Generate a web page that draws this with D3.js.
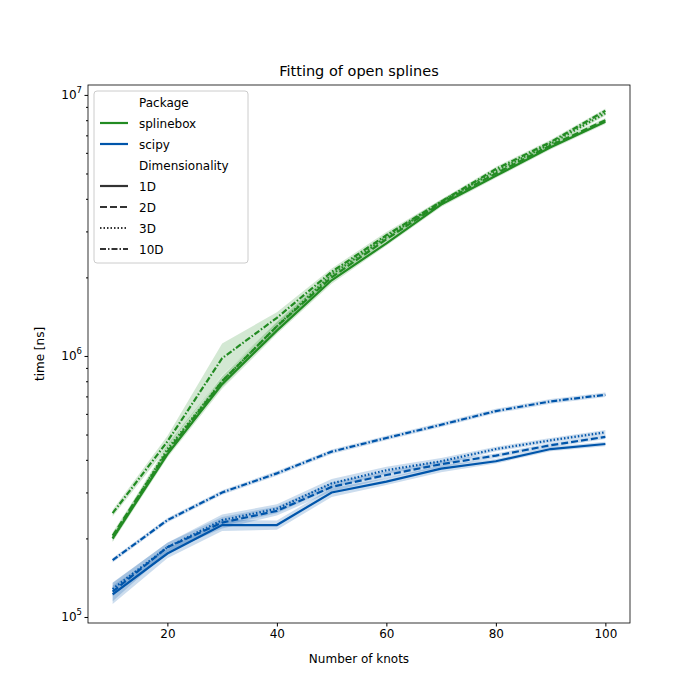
<!DOCTYPE html>
<html><head><meta charset="utf-8">
<script src="https://cdn.jsdelivr.net/npm/d3@7"></script>
<style>body{margin:0;background:#fff}text{font-family:"DejaVu Sans",sans-serif}</style>
</head><body><svg id="c" width="700" height="700"></svg>
<script>
const knots=[10,20,30,40,50,60,70,80,90,100];
const dims=["1D","2D","3D","10D"];
const packages=["splinebox","scipy"];
const colors={splinebox:"#228b22",scipy:"#0055aa"};
const dashes={"1D":null,"2D":"7,3","3D":"1.5,2","10D":"6,2,1.5,2"};
const splinebox={
 "1D":[2.0e5,4.2e5,7.8e5,1.25e6,1.95e6,2.7e6,3.8e6,4.9e6,6.3e6,7.9e6],
 "2D":[2.05e5,4.3e5,8.0e5,1.3e6,2.0e6,2.8e6,3.85e6,5.0e6,6.4e6,8.0e6],
 "3D":[2.0e5,4.4e5,8.0e5,1.3e6,2.05e6,2.85e6,3.9e6,5.1e6,6.5e6,8.5e6],
 "10D":[2.5e5,4.7e5,9.8e5,1.4e6,2.1e6,2.9e6,3.9e6,5.2e6,6.6e6,8.7e6]};
const scipy={
 "1D":[1.22e5,1.75e5,2.25e5,2.25e5,3.0e5,3.3e5,3.7e5,3.95e5,4.4e5,4.6e5],
 "2D":[1.25e5,1.85e5,2.3e5,2.55e5,3.15e5,3.5e5,3.85e5,4.15e5,4.55e5,4.9e5],
 "3D":[1.28e5,1.85e5,2.35e5,2.6e5,3.25e5,3.65e5,3.95e5,4.4e5,4.75e5,5.1e5],
 "10D":[1.65e5,2.35e5,3.0e5,3.55e5,4.3e5,4.85e5,5.45e5,6.15e5,6.7e5,7.1e5]};
// relative half-widths of confidence bands
const splineboxSpread={"1D":[0.03,0.03,0.04,0.03,0.03,0.02,0.02,0.02,0.02,0.02],"2D":[0.03,0.03,0.04,0.03,0.03,0.02,0.02,0.02,0.02,0.02],"3D":[0.03,0.04,0.05,0.04,0.03,0.03,0.02,0.02,0.02,0.02],"10D":[0.03,0.05,0.14,0.05,0.03,0.03,0.02,0.02,0.02,0.02]};
const scipySpread={"1D":[0.08,0.04,0.05,0.04,0.04,0.03,0.03,0.02,0.02,0.02],"2D":[0.08,0.04,0.05,0.04,0.04,0.03,0.03,0.02,0.02,0.02],"3D":[0.06,0.04,0.05,0.04,0.04,0.03,0.03,0.02,0.02,0.02],"10D":[0.02,0.02,0.02,0.02,0.02,0.02,0.02,0.02,0.02,0.02]};
const data={splinebox,scipy}, spread={splinebox:splineboxSpread,scipy:scipySpread};

const svg=d3.select("#c");
const L=88,R=630,T=85,B=623;
const x=d3.scaleLinear().domain([5.5,104.5]).range([L,R]);
const y=d3.scaleLog().domain([Math.pow(10,4.977),Math.pow(10,7.038)]).range([B,T]);
const g=svg.append("g");
packages.forEach(p=>dims.forEach(d=>{
  const v=data[p][d], s=spread[p][d];
  const area=d3.area().x((_,i)=>x(knots[i])).y0((_,i)=>y(v[i]*(1-s[i]))).y1((_,i)=>y(v[i]*(1+s[i])));
  g.append("path").attr("d",area(v)).attr("fill",colors[p]).attr("opacity",0.2);
}));
packages.forEach(p=>dims.forEach(d=>{
  const v=data[p][d];
  const line=d3.line().x((_,i)=>x(knots[i])).y(t=>y(t));
  g.append("path").attr("d",line(v)).attr("fill","none").attr("stroke",colors[p]).attr("stroke-width",2.2).attr("stroke-dasharray",dashes[d]);
}));
const xa=svg.append("g").attr("transform",`translate(0,${B})`).call(d3.axisBottom(x).tickValues([20,40,60,80,100]).tickSizeOuter(0).tickSize(3.5));
const ya=svg.append("g").attr("transform",`translate(${L},0)`).call(d3.axisLeft(y).tickValues([1e5,1e6,1e7]).tickFormat(()=> "").tickSize(3.5));
[1e5,1e6,1e7].forEach((t,i)=>{
  const tx=svg.append("text").attr("x",L-6).attr("y",y(t)+4).attr("text-anchor","end").attr("font-size",12);
  tx.append("tspan").text("10");
  tx.append("tspan").attr("dy",-6).attr("font-size",8.5).text(5+i);
});
const minor=[];for(let e=4;e<7;e++)for(let k=2;k<10;k++){const val=k*Math.pow(10,e);if(val>y.domain()[0]&&val<y.domain()[1])minor.push(val);}
svg.append("g").attr("transform",`translate(${L},0)`).call(d3.axisLeft(y).tickValues(minor).tickFormat("").tickSize(2));
svg.selectAll(".domain").remove();
svg.append("rect").attr("x",L).attr("y",T).attr("width",R-L).attr("height",B-T).attr("fill","none").attr("stroke","#000").attr("stroke-width",0.8);
svg.selectAll(".tick text").attr("font-size",12).attr("font-family","DejaVu Sans");
svg.append("text").attr("x",(L+R)/2).attr("y",76).attr("text-anchor","middle").attr("font-size",14.5).text("Fitting of open splines");
svg.append("text").attr("x",(L+R)/2).attr("y",663).attr("text-anchor","middle").attr("font-size",12).text("Number of knots");
svg.append("text").attr("transform",`translate(44,${(T+B)/2}) rotate(-90)`).attr("text-anchor","middle").attr("font-size",12).text("time [ns]");
// legend
const lg=svg.append("g").attr("transform","translate(94,91)");
lg.append("rect").attr("width",154).attr("height",172).attr("rx",3).attr("fill","#fff").attr("fill-opacity",0.8).attr("stroke","#ccc");
const items=[{t:"Package",h:1},{t:"splinebox",c:colors.splinebox},{t:"scipy",c:colors.scipy},{t:"Dimensionality",h:1},...dims.map(d=>({t:d,c:"#333",d:dashes[d]}))];
items.forEach((it,i)=>{
  const yy=11+i*21;
  if(!it.h) lg.append("line").attr("x1",6).attr("x2",34).attr("y1",yy).attr("y2",yy).attr("stroke",it.c).attr("stroke-width",2.2).attr("stroke-dasharray",it.d||null);
  lg.append("text").attr("x",45).attr("y",yy+4.5).attr("font-size",12).text(it.t);
});
</script></body></html>
